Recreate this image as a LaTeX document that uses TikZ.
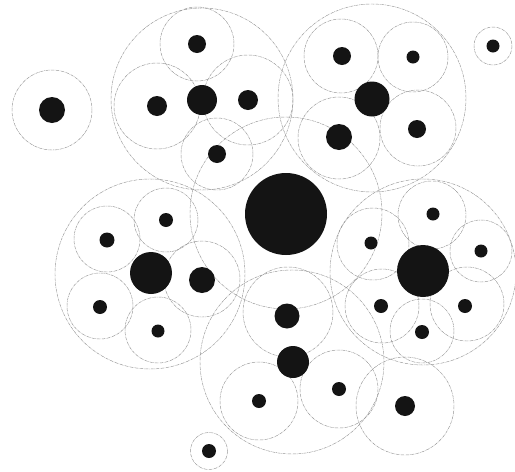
\documentclass[tikz,border=0pt]{standalone}
\begin{document}
\begin{tikzpicture}[x=1pt,y=-1pt,
  ring/.style={draw=black!42, line width=0.45pt, dash pattern=on 3pt off 0.8pt on 0.6pt off 0.8pt},
  blob/.style={fill=black!92}]
\useasboundingbox (0,0) rectangle (515,472);
% ---- rings ----
% isolated
\draw[ring] (52,110) circle (40);
\draw[ring] (493,46) circle (19);
\draw[ring] (209,451) circle (18.5);
% top-left cluster
\draw[ring] (202,99) circle (91);
\draw[ring] (197,44) circle (37);
\draw[ring] (157,106) circle (43);
\draw[ring] (248,100) circle (45);
\draw[ring] (217,154) circle (36);
% top-right cluster
\draw[ring] (372,98) circle (94);
\draw[ring] (341,56) circle (37);
\draw[ring] (413,57) circle (35);
\draw[ring] (339,138) circle (41);
\draw[ring] (418,128) circle (38);
% central
\draw[ring] (286,213) circle (96);
% bottom-left cluster
\draw[ring] (150,274) circle (95);
\draw[ring] (107,239) circle (33);
\draw[ring] (166,220) circle (32);
\draw[ring] (100,306) circle (33);
\draw[ring] (158,330) circle (33);
\draw[ring] (202,279) circle (38);
% bottom-right cluster
\draw[ring] (423,272) circle (93);
\draw[ring] (432,215) circle (34);
\draw[ring] (481,251) circle (31);
\draw[ring] (373,244) circle (36);
\draw[ring] (382,306) circle (37);
\draw[ring] (467,304) circle (37);
\draw[ring] (422,331) circle (32);
% bottom-middle cluster
\draw[ring] (292,362) circle (92);
\draw[ring] (288,312) circle (45);
\draw[ring] (339,389) circle (39);
\draw[ring] (259,401) circle (39);
\draw[ring] (405,406) circle (49);
% ---- dots ----
\fill[blob] (52,110) circle (13);
\fill[blob] (493,46) circle (6.5);
\fill[blob] (209,451) circle (7);
\fill[blob] (197,44) circle (9);
\fill[blob] (202,100) circle (15);
\fill[blob] (157,106) circle (10);
\fill[blob] (248,100) circle (10);
\fill[blob] (217,154) circle (9);
\fill[blob] (372,99) circle (17.5);
\fill[blob] (342,56) circle (9);
\fill[blob] (413,57) circle (6.5);
\fill[blob] (339,137) circle (13);
\fill[blob] (417,129) circle (9);
\fill[blob] (286,214) circle (41);
\fill[blob] (151,273) circle (21);
\fill[blob] (202,280) circle (13);
\fill[blob] (107,240) circle (7.5);
\fill[blob] (166,220) circle (7);
\fill[blob] (100,307) circle (7);
\fill[blob] (158,331) circle (6.5);
\fill[blob] (423,271) circle (26);
\fill[blob] (433,214) circle (6.5);
\fill[blob] (481,251) circle (6.5);
\fill[blob] (371,243) circle (6.5);
\fill[blob] (381,306) circle (7);
\fill[blob] (465,306) circle (7);
\fill[blob] (422,332) circle (7);
\fill[blob] (287,316) circle (12.5);
\fill[blob] (293,362) circle (16);
\fill[blob] (259,401) circle (7);
\fill[blob] (339,389) circle (7);
\fill[blob] (405,406) circle (10);
\end{tikzpicture}
\end{document}
